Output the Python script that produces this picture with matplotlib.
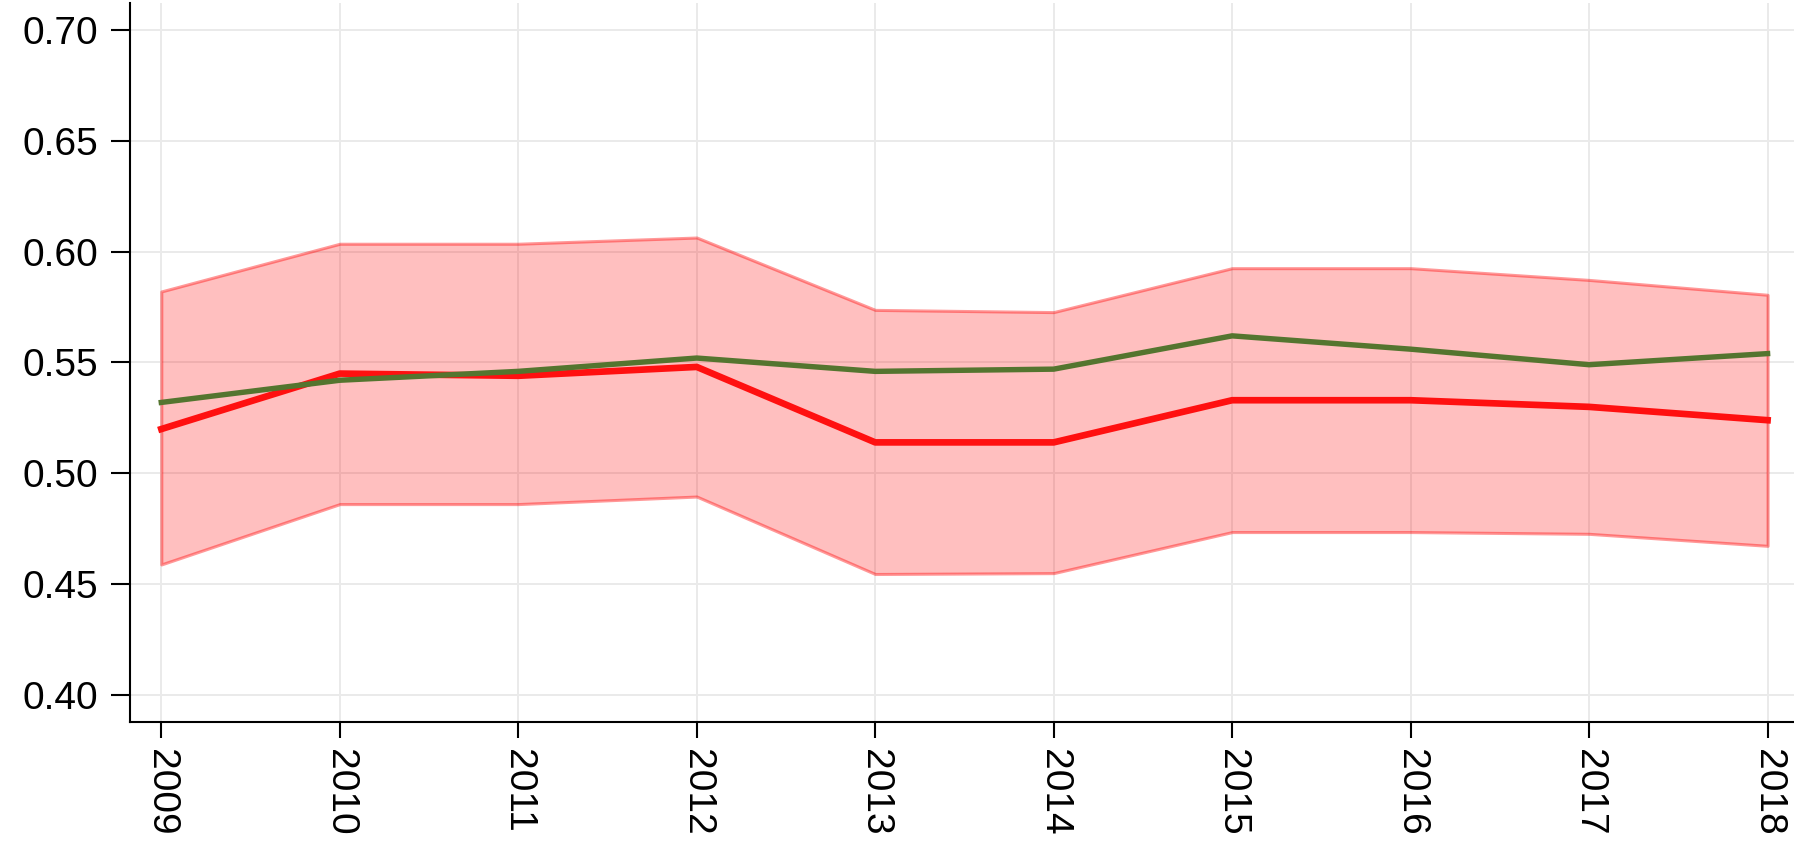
import matplotlib
matplotlib.use('Agg')
import matplotlib.pyplot as plt

# Valores
anos = [2009, 2010, 2011, 2012, 2013, 2014, 2015, 2016, 2017, 2018]
linha_vermelha = [0.520, 0.545, 0.544, 0.548, 0.514, 0.514, 0.533, 0.533, 0.530, 0.524]
linha_verde = [0.532, 0.542, 0.546, 0.552, 0.546, 0.547, 0.562, 0.556, 0.549, 0.554]
banda_sup = [0.582, 0.6035, 0.6035, 0.6063, 0.5737, 0.5727, 0.5925, 0.5925, 0.5872, 0.5805]
banda_inf = [0.459, 0.4862, 0.4862, 0.4896, 0.4547, 0.4551, 0.4736, 0.4736, 0.4728, 0.4674]
yticks = [0.40, 0.45, 0.50, 0.55, 0.60, 0.65, 0.70]

plt.rcParams['font.family'] = ['Liberation Sans', 'DejaVu Sans']

fig = plt.figure(figsize=(17.94, 8.44), dpi=100)
ax = fig.add_axes([0.0727, 0.1445, 0.9273, 0.8515])

# Banda de confiança
ax.fill_between(anos, banda_inf, banda_sup, facecolor=(1, 0, 0, 0.25),
                edgecolor=(1, 0, 0, 0.40), linewidth=2.2, zorder=2)

# Linhas
ax.plot(anos, linha_vermelha, color='#FF1010', linewidth=4.8, zorder=3)
ax.plot(anos, linha_verde, color='#54752F', linewidth=3.9, zorder=4)

ax.set_xlim(2008.827, 2018.148)
ax.set_ylim(0.388, 0.7118)
ax.set_xticks(anos)
ax.set_xticklabels([str(a) for a in anos], rotation=-90)
ax.set_yticks(yticks)
ax.set_yticklabels(['{:.2f}'.format(v) for v in yticks])

# Grade
ax.grid(True, color='#EAEAEA', linewidth=1.4, zorder=1)
ax.set_axisbelow(True)

for lado in ['top', 'right']:
    ax.spines[lado].set_visible(False)
for lado in ['left', 'bottom']:
    ax.spines[lado].set_linewidth(1.5)
    ax.spines[lado].set_color('black')

ax.tick_params(axis='y', length=14, width=1.5, pad=9, labelsize=28)
ax.tick_params(axis='x', length=11.5, width=1.5, pad=8, labelsize=28)

fig.savefig('out.png', dpi=100)
